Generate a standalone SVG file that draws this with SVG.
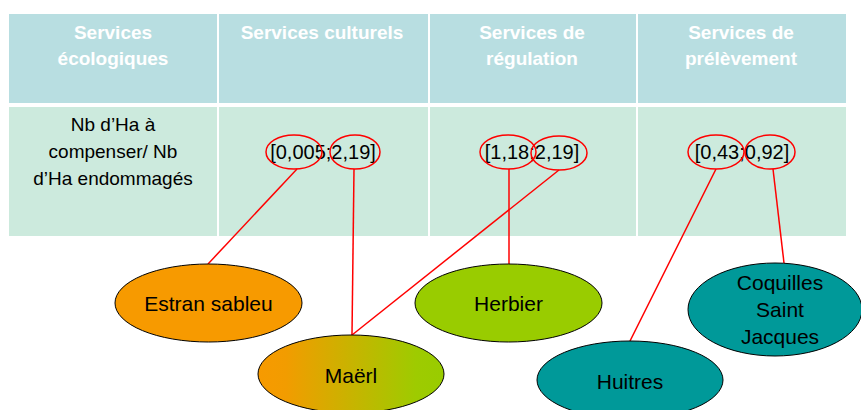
<svg xmlns="http://www.w3.org/2000/svg" width="861" height="410" viewBox="0 0 861 410">
<defs>
<linearGradient id="maerl" x1="0" y1="0" x2="1" y2="0">
<stop offset="0" stop-color="#F79A00"/>
<stop offset="0.15" stop-color="#F29C00"/>
<stop offset="0.85" stop-color="#9ECB00"/>
<stop offset="1" stop-color="#99CC00"/>
</linearGradient>
</defs>
<style>
.hdr{fill:#B8DEE1}
.row{fill:#CCEADD}
.ht{font-family:"Liberation Sans",Arial,sans-serif;font-size:19px;font-weight:bold;fill:#FFFFFF;text-anchor:middle}
.rt{font-family:"Liberation Sans",Arial,sans-serif;font-size:19px;fill:#000000;text-anchor:middle}
.iv{font-family:"Liberation Sans",Arial,sans-serif;font-size:20px;fill:#000000;text-anchor:middle}
.hl{fill:none;stroke:#FF0000;stroke-width:1.5}
.con line{stroke:#FF0000;stroke-width:1.5}
.node ellipse{stroke:#000000;stroke-width:1}
.nt{font-family:"Liberation Sans",Arial,sans-serif;font-size:21px;fill:#000000;text-anchor:middle}
</style>
<rect width="861" height="410" fill="#FFFFFF"/>
<g id="table">
<rect class="hdr" x="9" y="14" width="208" height="89"/>
<rect class="hdr" x="219" y="14" width="209" height="89"/>
<rect class="hdr" x="430" y="14" width="206" height="89"/>
<rect class="hdr" x="638" y="14" width="208" height="89"/>
<rect class="row" x="9" y="107" width="208" height="129"/>
<rect class="row" x="219" y="107" width="209" height="129"/>
<rect class="row" x="430" y="107" width="206" height="129"/>
<rect class="row" x="638" y="107" width="208" height="129"/>
<text class="ht" x="113" y="39">Services</text>
<text class="ht" x="113" y="65">écologiques</text>
<text class="ht" x="322" y="39">Services culturels</text>
<text class="ht" x="532" y="39">Services de</text>
<text class="ht" x="532" y="65">régulation</text>
<text class="ht" x="741" y="39">Services de</text>
<text class="ht" x="741" y="65">prélèvement</text>
<text class="rt" x="113" y="131">Nb d’Ha à</text>
<text class="rt" x="113" y="158">compenser/ Nb</text>
<text class="rt" x="113" y="185">d’Ha endommagés</text>
<text class="iv" x="323" y="159">[0,005;2,19]</text>
<text class="iv" x="532" y="159">[1,18;2,19]</text>
<text class="iv" x="742" y="159">[0,43;0,92]</text>
</g>
<g id="highlights">
<ellipse class="hl" cx="294" cy="152" rx="28" ry="17"/>
<ellipse class="hl" cx="355" cy="152" rx="25" ry="17"/>
<ellipse class="hl" cx="508" cy="152" rx="28" ry="17"/>
<ellipse class="hl" cx="559" cy="153" rx="28" ry="17"/>
<ellipse class="hl" cx="716" cy="152" rx="28" ry="17"/>
<ellipse class="hl" cx="770" cy="152" rx="25" ry="17"/>
</g>
<g id="connectors" class="con">
<line x1="297" y1="169" x2="208" y2="264"/>
<line x1="354" y1="169" x2="352" y2="335"/>
<line x1="509" y1="169" x2="509" y2="264"/>
<line x1="559" y1="170" x2="352" y2="335"/>
<line x1="716" y1="169" x2="630" y2="341"/>
<line x1="773" y1="169" x2="784" y2="263"/>
</g>
<g id="estran" class="node">
<ellipse cx="208.5" cy="303" rx="93.5" ry="39" fill="#F79A00"/>
<text class="nt" x="208.5" y="311">Estran sableu</text>
</g>
<g id="herbier" class="node">
<ellipse cx="508.5" cy="303" rx="93.5" ry="39" fill="#99CC00"/>
<text class="nt" x="508.5" y="311">Herbier</text>
</g>
<g id="maerl" class="node">
<ellipse cx="351" cy="374" rx="93" ry="39" fill="url(#maerl)"/>
<text class="nt" x="351" y="383">Maërl</text>
</g>
<g id="huitres" class="node">
<ellipse cx="630" cy="380" rx="93" ry="39" fill="#009999"/>
<text class="nt" x="630" y="389">Huitres</text>
</g>
<g id="coquilles" class="node">
<ellipse cx="775" cy="309.5" rx="87" ry="46.5" fill="#009999"/>
<text class="nt" x="780" y="290">Coquilles</text>
<text class="nt" x="780" y="317">Saint</text>
<text class="nt" x="780" y="344">Jacques</text>
</g>
</svg>
